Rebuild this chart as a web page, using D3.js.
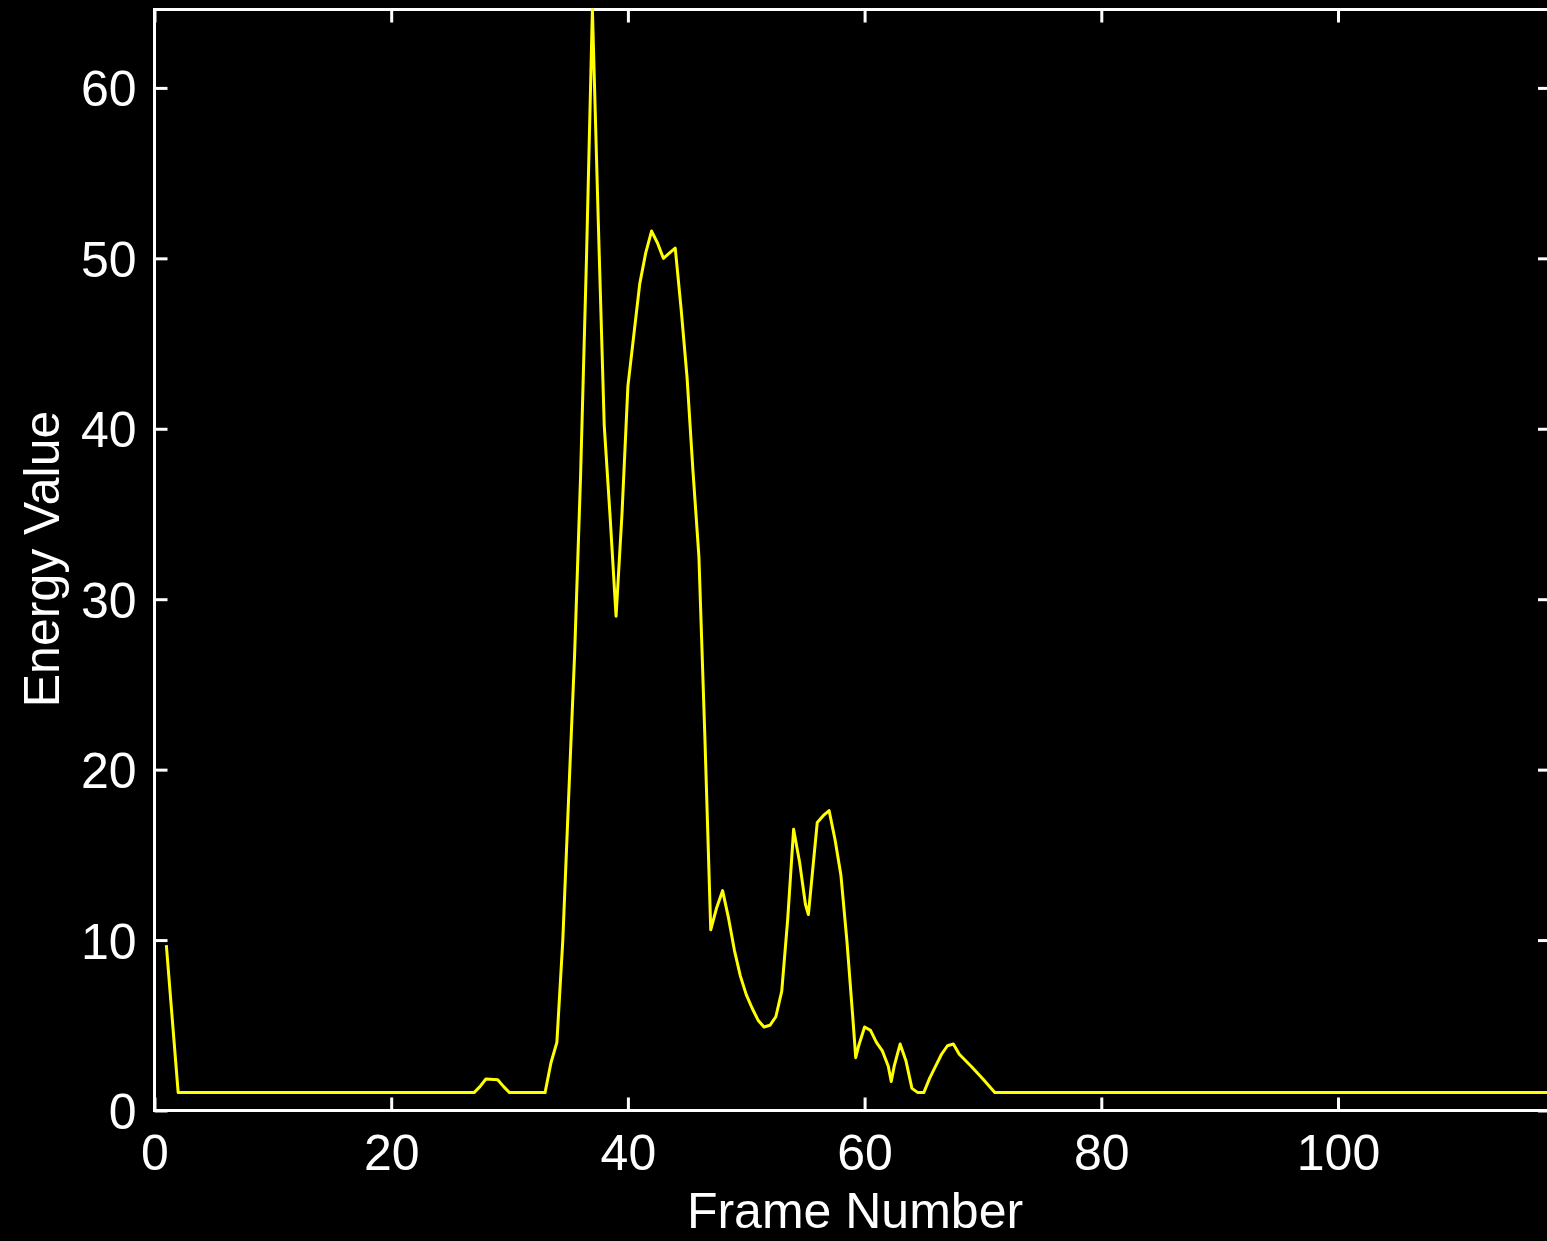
<!DOCTYPE html>
<html>
<head>
<meta charset="utf-8">
<script src="https://cdn.jsdelivr.net/npm/d3@7"></script>
<style>
  html, body { margin: 0; padding: 0; background: #000; overflow: hidden; }
  svg { display: block; }
  text { font-family: "Liberation Sans", Arial, sans-serif; fill: #fff; }
</style>
</head>
<body>
<svg id="chart" width="1547" height="1241"></svg>
<script>
// ---- data ----
const frames = [1, 2, 27, 27.5, 28, 29, 29.5, 30, 33, 33.5, 34, 34.5, 35, 35.5, 36, 36.5, 37,
  37.5, 38, 38.5, 39, 39.5, 40, 40.5, 41, 41.5, 42, 42.5, 43, 43.5, 44, 44.5, 45, 45.5, 46,
  46.5, 47, 47.5, 48, 48.5, 49, 49.5, 50, 50.5, 51, 51.5, 52, 52.5, 53, 53.5, 54, 54.5, 55,
  55.25, 55.5, 56, 56.5, 57, 57.5, 58, 58.5, 59, 59.25, 59.5, 60, 60.5, 61, 61.5, 62, 62.25,
  62.5, 63, 63.5, 64, 64.5, 65, 65.5, 66, 66.5, 67, 67.5, 68, 69, 70, 71, 118];
const energy = [9.7, 1.05, 1.05, 1.4, 1.85, 1.8, 1.4, 1.05, 1.05, 2.8, 4.0, 10.0, 18.5, 26.8, 37.2, 50.0, 64.6,
  52.1, 40.2, 34.8, 29.0, 35.0, 42.5, 45.5, 48.5, 50.3, 51.6, 50.9, 50.0, 50.3, 50.6, 47.0, 43.0, 37.5, 32.5,
  22.0, 10.6, 11.9, 12.9, 11.3, 9.4, 7.9, 6.8, 6.0, 5.3, 4.9, 5.0, 5.5, 7.0, 11.2, 16.5, 14.6, 12.1,
  11.5, 13.3, 16.9, 17.3, 17.6, 15.9, 13.8, 10.0, 5.5, 3.1, 3.8, 4.9, 4.7, 4.0, 3.5, 2.6, 1.7,
  2.6, 3.9, 2.9, 1.3, 1.05, 1.05, 1.9, 2.6, 3.3, 3.8, 3.9, 3.3, 2.6, 1.85, 1.05, 1.05];
const xTicks = [0, 20, 40, 60, 80, 100];
const yTicks = [0, 10, 20, 30, 40, 50, 60];
const xDomain = [0, 118];
const yDomain = [0, 64.6];
const xLabel = "Frame Number";
const yLabel = "Energy Value";

(function () {
  // ---- layout ----
  const mLeft = 154.5, mTop = 9.5, mBottom = 1110.5;
  const mRight = mLeft + (1338 - 154.5) / 100 * 118;

  const svg = d3.select("#chart");
  svg.append("rect").attr("width", 1547).attr("height", 1241).attr("fill", "#000");

  const x = d3.scaleLinear().domain(xDomain).range([mLeft, mRight]);
  const y = d3.scaleLinear().domain(yDomain).range([mBottom, mTop]);

  const fontSize = 50;
  function styleAxis(g) {
    g.select(".domain").remove();
    g.selectAll(".tick line").attr("stroke", "#fff").attr("stroke-width", 3);
    g.selectAll(".tick text").attr("fill", "#fff")
      .style("font-size", fontSize + "px")
      .style("font-family", '"Liberation Sans", Arial, sans-serif');
  }

  // bottom axis with labels
  svg.append("g").attr("transform", `translate(0,${mBottom})`)
    .call(d3.axisBottom(x).tickValues(xTicks).tickSize(-13).tickPadding(24).tickFormat(d3.format("d")))
    .call(styleAxis);
  // top axis (ticks only)
  svg.append("g").attr("transform", `translate(0,${mTop})`)
    .call(d3.axisTop(x).tickValues(xTicks).tickSize(-13).tickFormat(""))
    .call(styleAxis);
  // left axis with labels
  svg.append("g").attr("transform", `translate(${mLeft},0)`)
    .call(d3.axisLeft(y).tickValues(yTicks).tickSize(-13).tickPadding(18).tickFormat(d3.format("d")))
    .call(styleAxis)
    .selectAll(".tick text").attr("dy", "0.36em");
  // right axis (ticks only)
  svg.append("g").attr("transform", `translate(${mRight},0)`)
    .call(d3.axisRight(y).tickValues(yTicks).tickSize(-13).tickFormat(""))
    .call(styleAxis);

  // box
  svg.append("rect")
    .attr("x", mLeft).attr("y", mTop)
    .attr("width", mRight - mLeft).attr("height", mBottom - mTop)
    .attr("fill", "none").attr("stroke", "#fff").attr("stroke-width", 3);

  // line
  const pts = frames.map((f, i) => [f, energy[i]]);
  svg.append("path")
    .datum(pts)
    .attr("fill", "none")
    .attr("stroke", "#ffff00")
    .attr("stroke-width", 3)
    .attr("stroke-linejoin", "round")
    .attr("d", d3.line().x(d => x(d[0])).y(d => y(d[1])));

  // axis labels
  svg.append("text")
    .attr("x", 855).attr("y", 1228)
    .attr("text-anchor", "middle")
    .style("font-size", fontSize + "px")
    .text(xLabel);

  svg.append("text")
    .attr("transform", "translate(59,559) rotate(-90)")
    .attr("text-anchor", "middle")
    .style("font-size", fontSize + "px")
    .text(yLabel);
})();
</script>
</body>
</html>
